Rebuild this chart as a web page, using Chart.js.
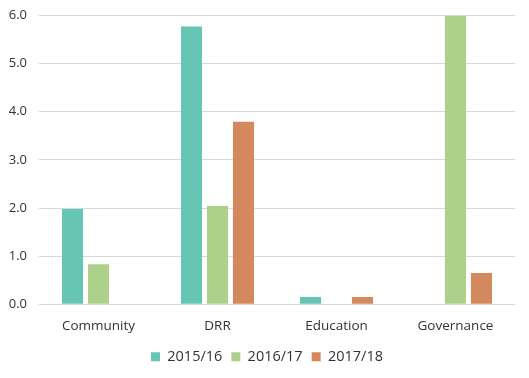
<!DOCTYPE html>
<html>
<head>
<meta charset="utf-8">
<script src="https://cdn.jsdelivr.net/npm/chart.js@4/dist/chart.umd.min.js"></script>
<style>
html,body{margin:0;padding:0;background:#fff;}
#wrap{width:529px;height:378px;position:relative;}
</style>
</head>
<body>
<div id="wrap"><canvas id="c" width="529" height="378"></canvas></div>
<script>
const categories = ["Community", "DRR", "Education", "Governance"];
const series2015 = [1.98, 5.77, 0.15, null];
const series2016 = [0.83, 2.04, null, 5.99];
const series2017 = [null, 3.79, 0.15, 0.65];
const seriesNames = ["2015/16", "2016/17", "2017/18"];
const yTicks = [0, 1, 2, 3, 4, 5, 6];

const colors = ["#66C6B3", "#ADD08B", "#D3895D"];
const font = "'Open Sans', 'DejaVu Sans', sans-serif";

new Chart(document.getElementById('c'), {
  type: 'bar',
  data: {
    labels: categories,
    datasets: [series2015, series2016, series2017].map((d, i) => ({
      label: seriesNames[i],
      data: d,
      backgroundColor: colors[i],
      borderWidth: 0,
      categoryPercentage: 0.655,
      barPercentage: 0.81
    }))
  },
  options: {
    responsive: false,
    animation: false,
    layout: { padding: { left: 5, right: 0, top: 15.5, bottom: 4 } },
    plugins: {
      legend: {
        position: 'bottom',
        labels: {
          boxWidth: 9, boxHeight: 9, padding: 9,
          color: '#333', font: { family: font, size: 14.5 }
        }
      },
      tooltip: { enabled: false }
    },
    scales: {
      x: {
        grid: { display: false },
        border: { display: false },
        ticks: { color: '#333', font: { family: font, size: 13.5 }, padding: 6 }
      },
      y: {
        min: 0, max: 6,
        afterBuildTicks: (s) => { s.ticks = yTicks.map(v => ({ value: v })); },
        afterFit: (a) => { a.width = 34; a.paddingTop = 0; a.paddingBottom = 0; },
        grid: { color: '#d9d9d9', lineWidth: 1, drawTicks: false },
        border: { display: false },
        ticks: { color: '#333', font: { family: font, size: 13, lineHeight: 1 }, padding: 12,
                 callback: (v) => Number(v).toFixed(1) }
      },
      y2: {
        position: 'right',
        min: 0, max: 6,
        afterFit: (a) => { a.width = 14; a.paddingTop = 0; a.paddingBottom = 0; },
        grid: { display: false },
        border: { display: false },
        ticks: { display: false }
      }
    }
  }
});
</script>
</body>
</html>
